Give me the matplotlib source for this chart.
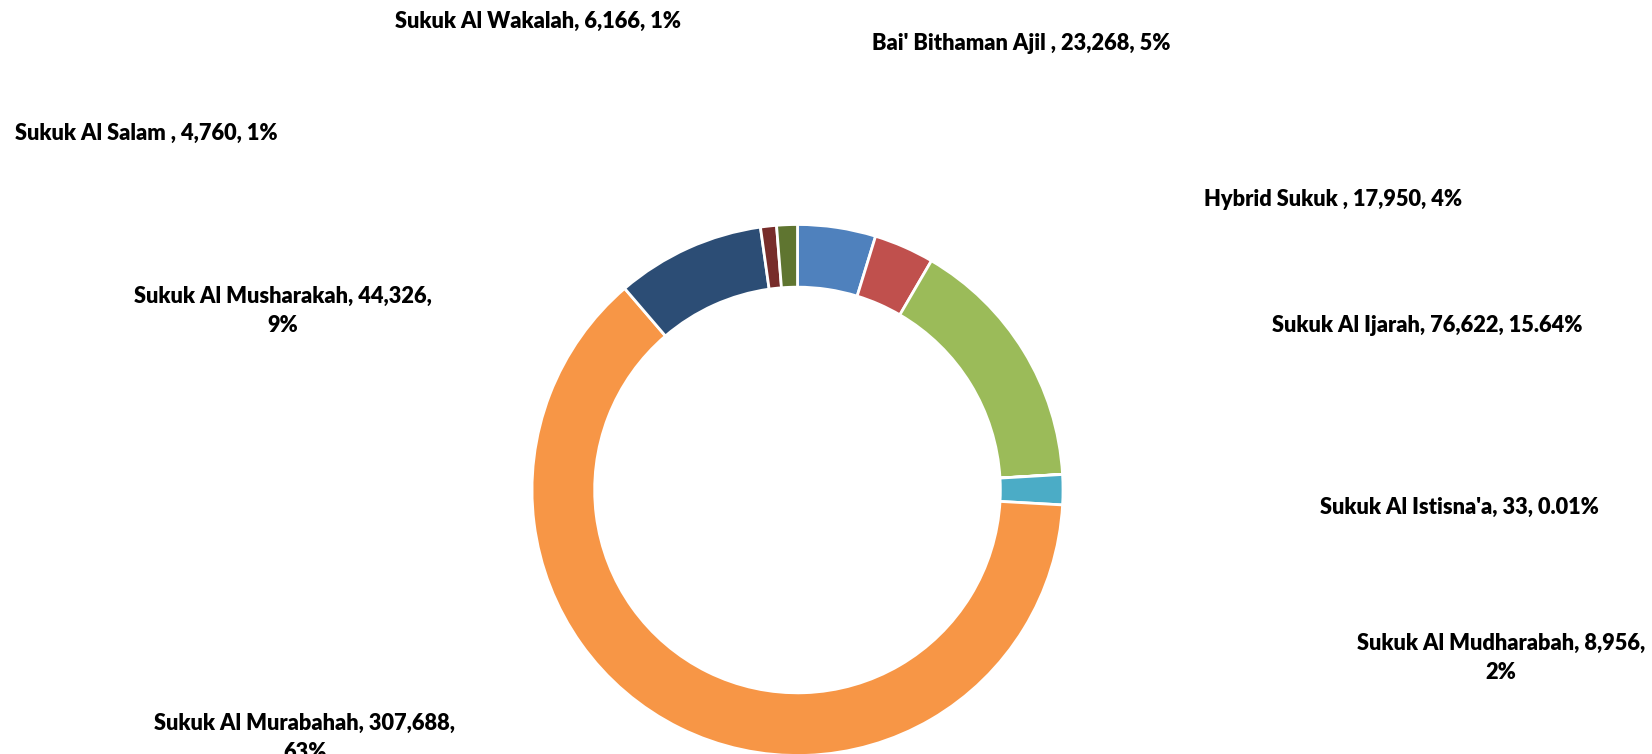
import matplotlib.pyplot as plt

# sukuk issuance by structure (clockwise from 12 o'clock)
labels = ["Bai' Bithaman Ajil ", "Hybrid Sukuk ", "Sukuk Al Ijarah", "Sukuk Al Istisna'a",
          "Sukuk Al Mudharabah", "Sukuk Al Murabahah", "Sukuk Al Musharakah",
          "Sukuk Al Salam ", "Sukuk Al Wakalah"]
values = [23268, 17950, 76622, 33, 8956, 307688, 44326, 4760, 6166]
pct_text = ["5%", "4%", "15.64%", "0.01%", "2%", "63%", "9%", "1%", "1%"]
colors = ["#4F81BD", "#C0504D", "#9BBB59", "#8064A2", "#4BACC6",
          "#F79646", "#2C4D75", "#772C2A", "#5F7530"]

# label layout: (x, y) in pixels from top-left, and whether the text wraps
label_pos = [(1021, 43), (1333, 200), (1427, 326), (1459, 507), (1501, 658),
             (305, 738), (283, 311), (146, 133), (538, 21)]
wrapped = [False, False, False, False, True, True, True, False, False]

W, H = 1652, 754
fig = plt.figure(figsize=(W / 100, H / 100), dpi=100)
cx, cy, R = 797.5, 490, 265.5
ax = fig.add_axes([(cx - R) / W, (H - cy - R) / H, 2 * R / W, 2 * R / H])

ax.pie(values, colors=colors, startangle=90, counterclock=False, radius=1,
       wedgeprops=dict(width=0.236, edgecolor="white", linewidth=2))
ax.set_xlim(-1, 1)
ax.set_ylim(-1, 1)
ax.set_aspect("equal")
ax.axis("off")

for lab, v, p, (x, y), wr in zip(labels, values, pct_text, label_pos, wrapped):
    txt = f"{lab}, {v:,},"
    txt = txt + ("\n" if wr else " ") + p
    fig.text(x / W, 1 - y / H, txt, ha="center", va="center", fontsize=15.7,
             fontweight="heavy", family="Lato", color="#000000",
             linespacing=1.45)

fig.savefig("out.png", dpi=100)
